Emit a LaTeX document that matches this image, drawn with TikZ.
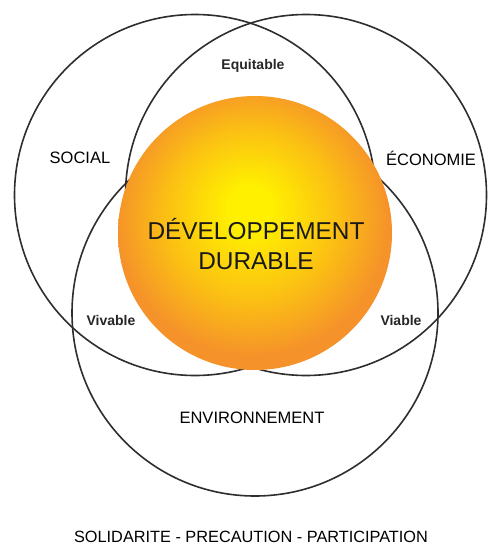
\documentclass[tikz,border=0pt]{standalone}
\usepackage{fontspec}
\setmainfont{Liberation Sans}
\definecolor{ringline}{HTML}{2E2E2E}
\definecolor{sunY}{HTML}{FFF000}
\definecolor{sunM}{HTML}{FBBE14}
\definecolor{sunO}{HTML}{F5922A}
\pgfdeclareradialshading{sunball}{\pgfpoint{-1bp}{5bp}}{%
  color(0bp)=(sunY); color(4bp)=(sunY); color(16bp)=(sunM); color(25bp)=(sunO); color(50bp)=(sunO)}
\tikzset{
  ring/.style={draw=ringline, line width=1.6pt},
  biglabel/.style={font=\fontsize{16.5}{18}\selectfont, text=black, inner sep=0pt},
  smalllabel/.style={font=\bfseries\fontsize{14}{16}\selectfont, text=black!85, inner sep=0pt},
  centrelabel/.style={font=\fontsize{24.4}{32}\selectfont, text=black!90, inner sep=0pt, align=center},
}
\begin{document}
\begin{tikzpicture}[x=1pt,y=-1pt]
\useasboundingbox (0,0) rectangle (489,546);
\fill[white] (0,0) rectangle (489,546);
% three circles
\draw[ring] (195,195) circle[radius=180.5];
\draw[ring] (306,195) circle[radius=180.5];
\draw[ring] (255,313) circle[radius=183];
% central ball
\path[shading=sunball] (255,233) circle[radius=137];
% labels
\node[biglabel] (social) at (80,158) {SOCIAL};
\node[biglabel] (eco) at (431,158) {ÉCONOMIE};
\node[biglabel] (env) at (252,418) {ENVIRONNEMENT};
\node[smalllabel] (equi) at (253,66) {Equitable};
\node[smalllabel] (viv) at (111,320) {Vivable};
\node[smalllabel] (via) at (401,320) {Viable};
\node[centrelabel] (dev) at (256,229) {DÉVELOPPEMENT};
\node[centrelabel] (dur) at (256,261) {DURABLE};
\node[biglabel, font=\fontsize{16.3}{18}\selectfont] (bottom) at (251,537) {SOLIDARITE - PRECAUTION - PARTICIPATION};
\end{tikzpicture}
\end{document}
